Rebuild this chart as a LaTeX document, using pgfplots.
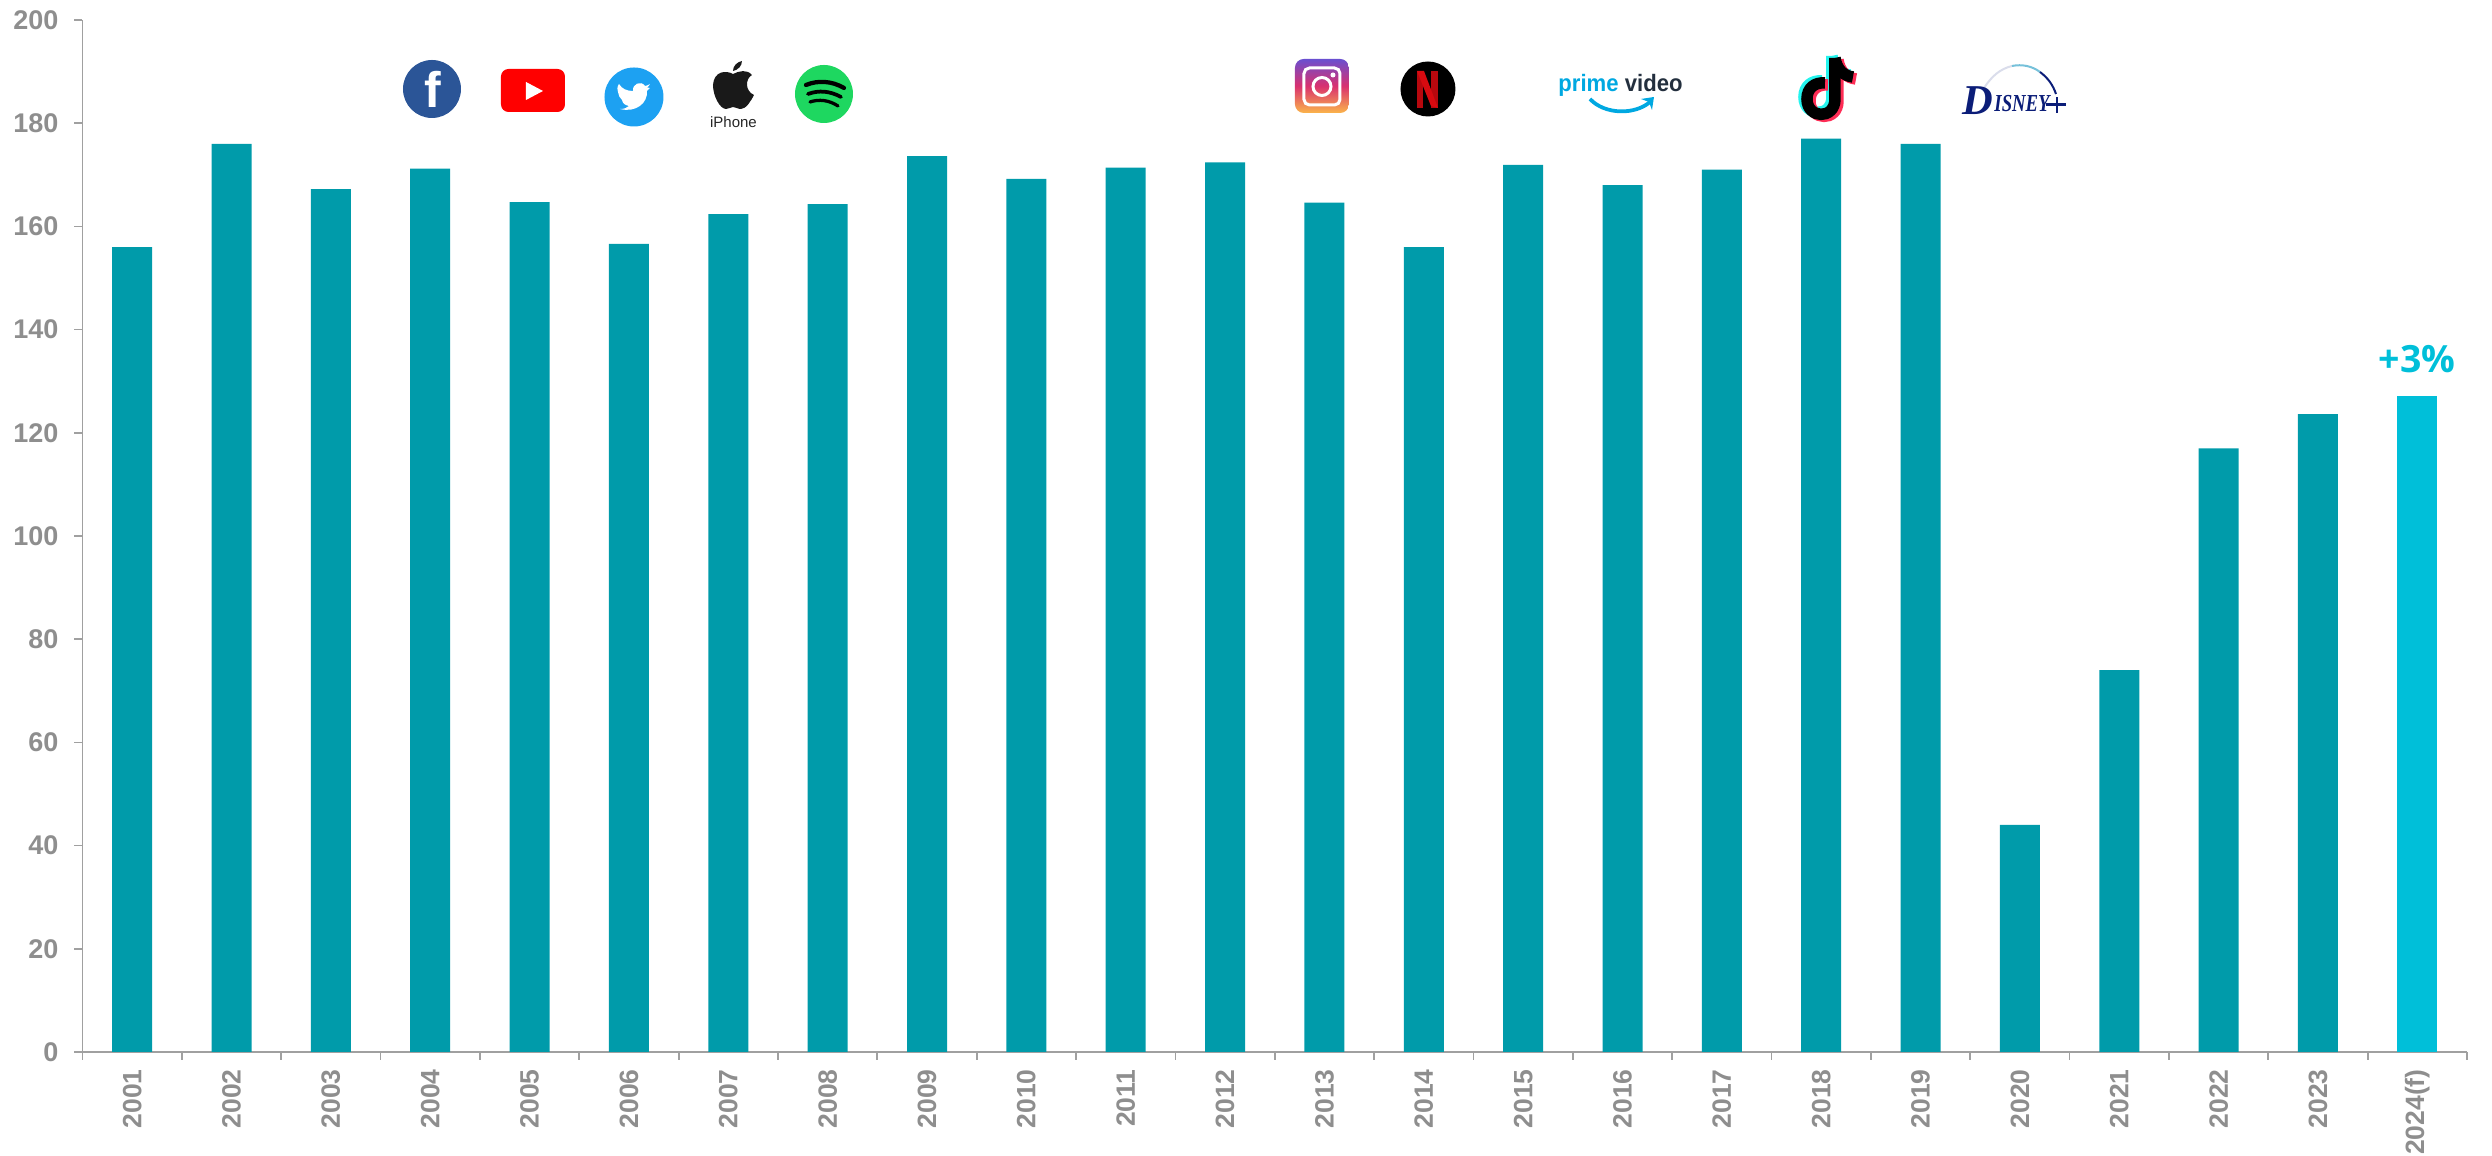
\documentclass[border=0pt]{standalone}
\usepackage{fontspec}
\setmainfont{Liberation Sans}
\newfontfamily\osans{Open Sans}
\newfontfamily\serifx{Liberation Serif}
\usepackage{pgfplots}
\pgfplotsset{compat=1.18}
\definecolor{teal1}{HTML}{009BAA}
\definecolor{cyan1}{HTML}{00BFD9}
\definecolor{axisg}{HTML}{A0A0A0}
\definecolor{textg}{HTML}{8E8E8E}
\definecolor{fbblue}{HTML}{2B5597}
\definecolor{ytred}{HTML}{FF0000}
\definecolor{twblue}{HTML}{1DA1F2}
\definecolor{spgreen}{HTML}{1ED760}
\definecolor{nfred}{HTML}{D80A10}
\definecolor{primeb}{HTML}{00A8E1}
\definecolor{primed}{HTML}{232F3E}
\definecolor{tkcy}{HTML}{25F4EE}
\definecolor{tkrd}{HTML}{FE2C55}
\definecolor{dsblue}{HTML}{0B1D78}
\definecolor{igp}{HTML}{6A4FD0}
\definecolor{igm}{HTML}{D9306F}
\definecolor{igy}{HTML}{FBB54A}
\begin{document}
\begin{tikzpicture}
\path[use as bounding box] (-33pt,-41.6pt) rectangle (963.8pt,420.8pt);
\begin{axis}[
  at={(0pt,0pt)}, anchor=south west, scale only axis,
  width=953.8pt, height=412.8pt,
  xmin=0.5, xmax=24.5, ymin=0, ymax=200,
  axis x line*=bottom, axis y line*=left,
  axis line style={axisg,line width=0.7pt,-},
  xtick={1,...,24},
  xticklabels={2001,2002,2003,2004,2005,2006,2007,2008,2009,2010,2011,2012,2013,2014,2015,2016,2017,2018,2019,2020,2021,2022,2023,2024(f)},
  minor xtick={0.5,1.5,2.5,3.5,4.5,5.5,6.5,7.5,8.5,9.5,10.5,11.5,12.5,13.5,14.5,15.5,16.5,17.5,18.5,19.5,20.5,21.5,22.5,23.5,24.5},
  ytick={0,20,...,200},
  tick align=outside,
  major x tick style={draw=none},
  minor x tick style={axisg,line width=0.7pt},
  minor tick length=3.2pt,
  y tick style={axisg,line width=0.7pt},
  major tick length=3.2pt,
  /pgf/number format/assume math mode=true,
  xticklabel style={font=\fontsize{10.6}{12}\selectfont\bfseries,color=textg,rotate=90,anchor=east,inner sep=0pt,yshift=0pt,xshift=-3.6pt},
  yticklabel style={font=\fontsize{10.8}{12}\selectfont\bfseries,color=textg,inner sep=0pt,xshift=-6.2pt},
  clip=false,
  ybar, bar width=16pt, bar shift=0pt,
]
\addplot[draw=none,fill=teal1] coordinates {
(1,156)(2,176)(3,167.2)(4,171.2)(5,164.7)(6,156.6)(7,162.4)(8,164.3)(9,173.6)(10,169.2)(11,171.4)(12,172.4)(13,164.6)(14,156)(15,171.9)(16,168)(17,171)(18,177)(19,176)(20,44)(21,74)(22,117)(23,123.6)};
\addplot[draw=none,fill=cyan1] coordinates {(24,127.1)};
\end{axis}
\begin{scope}[shift={(-33pt,420.8pt)},x=0.4pt,y=-0.4pt]
% +3%
\node[font=\fontsize{15}{16}\osans\bfseries,text=cyan1,inner sep=0pt] at (2417,359) {+3\%};
% facebook
\fill[fbblue] (432,89) circle [radius=29];
\node[font=\fontsize{20}{20}\selectfont\bfseries,text=white,inner sep=0pt] at (433,89) {f};
% youtube
\fill[ytred,rounded corners=3pt] (501,69) rectangle (565,112);
\fill[white] (526,82) -- (543,91) -- (526,100) -- cycle;
% twitter
\fill[twblue] (634,97) circle [radius=29.5];
\fill[white] (650,88) .. controls (648,90) and (648,90) .. (647,91)
  .. controls (648,103) and (636,113) .. (620,109)
  .. controls (624,109) and (627,108) .. (629,106)
  .. controls (625,105) and (623,104) .. (622,100)
  .. controls (620,98) and (618,95) .. (618,92)
  .. controls (617,90) and (617,87) .. (619,84)
  .. controls (622,89) and (627,91) .. (633,91)
  .. controls (632,84) and (641,80) .. (645,86)
  .. controls (647,86) and (648,85) .. (650,84)
  .. controls (649,86) and (648,87) .. (647,87.5)
  .. controls (648,88) and (649,88) .. (650,88) -- cycle;
% apple
\fill[black!90] (733,74) .. controls (726,70) and (714,71) .. (713,85)
  .. controls (713,96) and (720,109) .. (726,109)
  .. controls (729,109) and (731,107) .. (733,107)
  .. controls (736,107) and (737,109) .. (741,109)
  .. controls (746,109) and (751,101) .. (754,95)
  .. controls (745,91) and (745,79) .. (752,75)
  .. controls (747,69) and (739,71) .. (733,74) -- cycle;
\fill[black!90] (733,71) .. controls (733,66) and (737,62) .. (742,61)
  .. controls (742,66) and (738,70) .. (733,71) -- cycle;
\node[font=\fontsize{6}{6}\selectfont,text=black!85,inner sep=0pt] at (733.5,122) {iPhone};
% spotify
\fill[spgreen] (824,94) circle [radius=29];
\draw[black,line width=1.7pt,line cap=round] (806,85) .. controls (818,80) and (832,81) .. (844,88);
\draw[black,line width=1.5pt,line cap=round] (808,94) .. controls (819,90) and (830,91) .. (841,97);
\draw[black,line width=1.3pt,line cap=round] (810,102) .. controls (819,99) and (829,100) .. (838,106);
% instagram
\shade[top color=igp,bottom color=igy,middle color=igm,rounded corners=3.5pt] (1295,59) rectangle (1349,113);
\draw[white,line width=1.2pt,rounded corners=2.2pt] (1304,68) rectangle (1340,105);
\draw[white,line width=1.2pt] (1322,86.5) circle [radius=9];
\fill[white] (1333,75) circle [radius=2.5];
% netflix
\fill[black] (1428,89) circle [radius=27.5];
\fill[nfred!85!black] (1417,71) rectangle (1423.5,108);
\fill[nfred!85!black] (1431.5,71) rectangle (1438,108);
\fill[nfred] (1417,71) -- (1424,71) -- (1438,108) -- (1431,106) -- cycle;
% prime video
\node[font=\fontsize{9.5}{10}\selectfont\bfseries,text=primeb,inner sep=0pt,anchor=base west,xscale=.93,transform shape] at (1558,91.5) {prime};
\node[font=\fontsize{9.5}{10}\selectfont\bfseries,text=primed,inner sep=0pt,anchor=base east,xscale=.93,transform shape] at (1683,91.5) {video};
\draw[primeb,line width=1.5pt] (1590,99) .. controls (1605,115) and (1635,115) .. (1650,102);
\fill[primeb] (1641,99) -- (1654,97) -- (1652,110) -- (1649,102) -- cycle;
% tiktok
\begin{scope}[line width=4.6pt]
\draw[tkcy] (1832,56) -- (1832,97) .. controls (1832,118) and (1804,117) .. (1804,97) .. controls (1804,86) and (1812,80) .. (1822,81);
\draw[tkcy] (1832,56) .. controls (1834,68) and (1841,74) .. (1850,75);
\draw[tkrd] (1838,60) -- (1838,101) .. controls (1838,122) and (1810,121) .. (1810,101) .. controls (1810,90) and (1818,84) .. (1828,85);
\draw[tkrd] (1838,60) .. controls (1840,72) and (1847,78) .. (1856,79);
\draw[black] (1835,58) -- (1835,99) .. controls (1835,120) and (1807,119) .. (1807,99) .. controls (1807,88) and (1815,82) .. (1825,83);
\draw[black] (1835,58) .. controls (1837,70) and (1844,76) .. (1853,77);
\end{scope}
% disney+
\draw[dsblue!15,line width=0.8pt] (1984,88) .. controls (1992,76) and (2000,69) .. (2012,66);
\draw[dsblue!50!cyan!55,line width=0.8pt] (2012,66) .. controls (2022,64) and (2032,66) .. (2040,72);
\draw[dsblue,line width=0.8pt] (2040,72) .. controls (2048,78) and (2053,85) .. (2056,94);
\node[font=\fontsize{17}{17}\serifx\bfseries\itshape,text=dsblue,inner sep=0pt,anchor=base west] at (1962,115) {D};
\node[font=\fontsize{7.5}{8}\serifx\bfseries\itshape,text=dsblue,inner sep=0pt,anchor=base west,yscale=1.3,transform shape] at (1994,112) {ISNEY};
\fill[dsblue] (2046,103.5) rectangle (2066,106.5);
\fill[dsblue] (2056,97) rectangle (2058.5,113);
\end{scope}
\end{tikzpicture}
\end{document}
